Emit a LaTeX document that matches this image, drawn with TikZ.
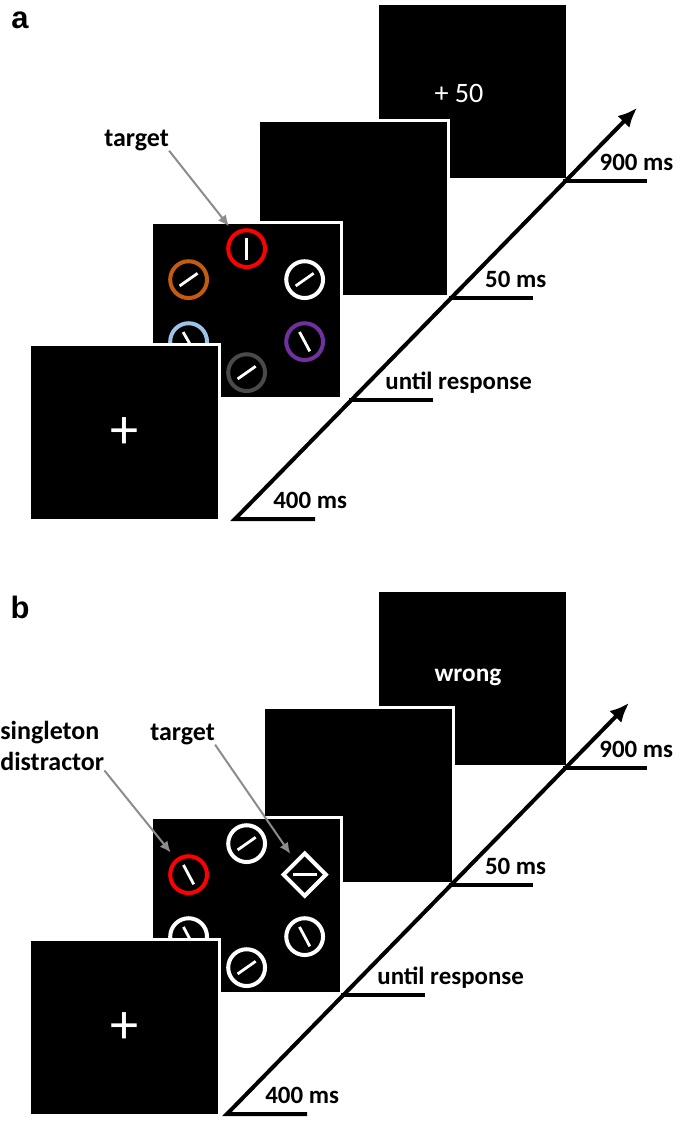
\documentclass[tikz,border=0pt]{standalone}
\usepackage{fontspec}
\setmainfont{Carlito}
\newfontfamily\panelfont{Liberation Sans}
\usetikzlibrary{calc}
\usetikzlibrary{positioning}
\usetikzlibrary{arrows.meta, shapes.geometric, intersections}
\pgfdeclarelayer{front}
\pgfsetlayers{main,front}

\definecolor{ringorange}{HTML}{C55A11}
\definecolor{ringblue}{HTML}{9DC3E6}
\definecolor{ringpurple}{HTML}{7030A0}
\definecolor{ringgray}{HTML}{4A4A4A}
\definecolor{pointergray}{HTML}{8C8C8C}

\tikzset{
    screen/.style={anchor=north west, fill=black, draw=white, line width=0.08cm,
        minimum width=4.75cm, minimum height=4.4cm, inner sep=0pt, text=white},
    ring/.style={circle, draw=#1, line width=0.1cm, minimum size=0.92cm, inner sep=0pt},
    gem/.style={diamond, draw=white, line width=0.1cm, minimum size=1.1cm, inner sep=0pt, aspect=1},
    bar/.style={white, line width=0.07cm},
    timeline/.style={line width=0.1cm},
    ticklab/.style={anchor=base west, inner sep=0pt, font=\fontsize{17.7}{21}\selectfont\bfseries},
    callout/.style={anchor=base west, inner sep=0pt, font=\fontsize{18.5}{22}\selectfont\bfseries},
    pointer/.style={draw=pointergray, line width=0.05cm, -{Latex[length=0.28cm, width=0.25cm]}, shorten >=0.2cm},
    panellab/.style={font=\panelfont\fontsize{22}{26}\selectfont\bfseries},
}

\begin{document}
\begin{tikzpicture}[x=0.025cm, y=-0.025cm]
    \useasboundingbox (0,0) rectangle (685,1121);
    % two trials, b sits 595 px lower (its two upper screens 8 px higher)
    \foreach \p/\dy/\dx/\dt/\sx in {a/0/0/0/0, b/595/-8/-8/5} {
        \node[panellab] (lab\p) at (20, 20+\dy+\dt) {\p};
        % screens, back to front
        \node[screen] (fb\p) at (376, 2+\dy+\dt) {};
        \node[screen] (blank\p) at (257+\sx, 119+\dy+\dt) {};
        \node[screen] (search\p) at (150, 221+\dy) {};
        \begin{pgfonlayer}{front}
            \node[screen, font=\fontsize{40}{40}\selectfont] (fix\p) at (28, 343+\dy) {+};
        \end{pgfonlayer}
        % time axis
        \coordinate (start\p) at (235+\dx, 519+\dy);
        \coordinate (end\p) at (637+\dx, 108+\dy);
        \draw[timeline, -{Latex[length=0.48cm, width=0.42cm]}, name path=axis\p]
            ($(start\p)+(80,0)$) -- (start\p) -- (end\p);
        \node[ticklab] (labfix\p) at ($(start\p)+(38,-11)$) {400 ms};
        % ticks where the axis meets the bottom of each screen
        \foreach \s/\txt in {search/until response, blank/50 ms, fb/900 ms} {
            \path[name path=edge] (\s\p.south west) -- ++(700,0);
            \path[name intersections={of=edge and axis\p}];
            \coordinate (tick\s\p) at (intersection-1);
            \draw[timeline, line cap=rect] (tick\s\p) -- ++(80,0);
            \node[ticklab] (lab\s\p) at ($(tick\s\p)+(34,-11)$) {\txt};
        }
    }

    % search display a: coloured rings
    \foreach \i/\ang/\col/\tilt in {0/0/red/90, 1/60/white/-35, 2/120/ringpurple/62,
        3/180/ringgray/-35, 4/240/ringblue/60, 5/300/ringorange/-35} {
        \node[ring=\col] (a\i) at ($(searcha)+({67*sin(\ang)},{-62*cos(\ang)})$) {};
        \draw[bar] (a\i) ++(\tilt:11) -- ++(\tilt+180:22);
    }
    % search display b: white rings, one red ring, one diamond
    \foreach \i/\ang/\col/\tilt in {0/0/white/-35, 2/120/white/62, 3/180/white/-35,
        4/240/white/62, 5/300/red/62} {
        \node[ring=\col] (b\i) at ($(searchb)+({67*sin(\ang)},{-62*cos(\ang)})$) {};
        \draw[bar] (b\i) ++(\tilt:11) -- ++(\tilt+180:22);
    }
    \node[gem] (b1) at ($(searchb)+({67*sin(60)},{-62*cos(60)})$) {};
    \draw[bar] (b1) ++(0:12) -- ++(180:24);

    % feedback texts
    \node[anchor=base, text=white, font=\fontsize{20}{24}\selectfont] (msga) at (459,102) {+ 50};
    \node[anchor=base, text=white, font=\fontsize{18}{22}\selectfont\bfseries] (msgb) at (468,681) {wrong};

    % callouts
    \node[callout] (tgtlaba) at (104,146) {target};
    \draw[pointer] (tgtlaba.south east) -- (a0);
    \node[callout] (singlab) at (0,739) {singleton};
    \node[callout] (distlab) at (0,770) {distractor};
    \draw[pointer] (distlab.south east) -- (b5);
    \node[callout] (tgtlabb) at (150,740) {target};
    \draw[pointer] (tgtlabb.south east) -- (b1);
\end{tikzpicture}
\end{document}
